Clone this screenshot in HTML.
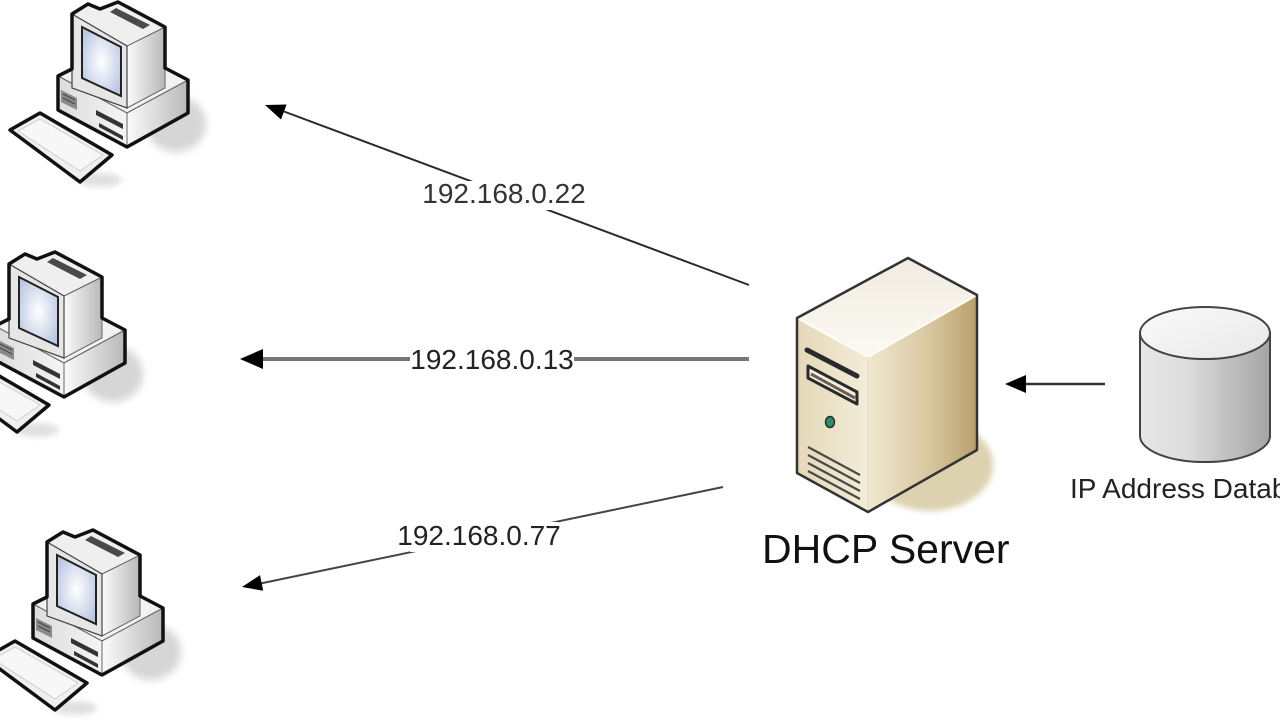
<!DOCTYPE html>
<html>
<head>
<meta charset="utf-8">
<style>
  html,body{margin:0;padding:0;background:#fff;width:1280px;height:720px;overflow:hidden;}
  svg{display:block;}
  text{font-family:"Liberation Sans",Arial,sans-serif;}
</style>
</head>
<body>
<svg width="1280" height="720" viewBox="0 0 1280 720" xmlns="http://www.w3.org/2000/svg">
  <defs>
    <filter id="blur4" x="-50%" y="-50%" width="200%" height="200%"><feGaussianBlur stdDeviation="4"/></filter>
    <filter id="blur3" x="-50%" y="-50%" width="200%" height="200%"><feGaussianBlur stdDeviation="3"/></filter>
    <linearGradient id="pcSide" x1="0" y1="0" x2="1" y2="0">
      <stop offset="0" stop-color="#fbfbfb"/><stop offset="1" stop-color="#b8b8b8"/>
    </linearGradient>
    <linearGradient id="pcFront" x1="0" y1="0" x2="1" y2="0">
      <stop offset="0" stop-color="#dcdcdc"/><stop offset="1" stop-color="#f4f4f4"/>
    </linearGradient>
    <radialGradient id="screen" cx="0.5" cy="0.5" r="0.6">
      <stop offset="0" stop-color="#ffffff"/><stop offset="1" stop-color="#b9c6e2"/>
    </radialGradient>
    <linearGradient id="srvRight" x1="0" y1="0" x2="1" y2="0">
      <stop offset="0" stop-color="#f0e8d2"/><stop offset="0.6" stop-color="#d6c59c"/><stop offset="1" stop-color="#b89f6c"/>
    </linearGradient>
    <linearGradient id="srvFront" x1="0" y1="0" x2="1" y2="0">
      <stop offset="0" stop-color="#e4d8b8"/><stop offset="1" stop-color="#f3ecd9"/>
    </linearGradient>
    <linearGradient id="srvTop" x1="0" y1="0" x2="0" y2="1">
      <stop offset="0" stop-color="#f1ece0"/><stop offset="1" stop-color="#fbf9f3"/>
    </linearGradient>
    <linearGradient id="dbBody" x1="0" y1="0" x2="1" y2="0">
      <stop offset="0" stop-color="#e6e6e6"/><stop offset="0.35" stop-color="#dedede"/><stop offset="1" stop-color="#a4a4a4"/>
    </linearGradient>
    <linearGradient id="dbTop" x1="0" y1="0" x2="1" y2="1">
      <stop offset="0" stop-color="#fafafa"/><stop offset="1" stop-color="#e8e8e8"/>
    </linearGradient>

    <g id="pc">
      <ellipse cx="176" cy="124" rx="30" ry="28" fill="#d6d6d6" filter="url(#blur4)"/>
      <ellipse cx="100" cy="180" rx="22" ry="7" fill="#e0e0e0" filter="url(#blur3)"/>
      <polygon points="58,76 120,44 188,80 127,113" fill="#f2f2f2" stroke="#666" stroke-width="1"/>
      <polygon points="58,76 127,113 127,147 58,110" fill="url(#pcFront)" stroke="#666" stroke-width="1"/>
      <polygon points="127,113 188,80 188,113 127,147" fill="url(#pcSide)" stroke="#666" stroke-width="1"/>
      <polygon points="61,90 77,98 77,110 61,102" fill="#8a8a8a"/>
      <line x1="63" y1="94" x2="75" y2="100" stroke="#444" stroke-width="1"/>
      <line x1="63" y1="98" x2="75" y2="104" stroke="#444" stroke-width="1"/>
      <polygon points="96,110 123,124 123,129 96,115" fill="#333"/>
      <polygon points="99,123 123,136 123,140 99,127" fill="#333"/>
      <polygon points="127,46 165,27 165,88 127,108" fill="url(#pcSide)" stroke="#666" stroke-width="1"/>
      <polygon points="72,14 88,4 100,9 118,2 165,27 127,46" fill="#efefef" stroke="#666" stroke-width="1"/>
      <polygon points="116,8 150,25 143,29 110,12" fill="#4a4a4a"/>
      <polygon points="72,14 127,46 127,108 72,88" fill="#e6e6e6" stroke="#444" stroke-width="1.2"/>
      <polygon points="82,27 121,47 121,96 82,78" fill="url(#screen)" stroke="#222" stroke-width="2"/>
      <polygon points="72,14 88,4 100,9 118,2 165,27 165,68 188,80 188,113 127,147 58,110 58,76 72,69" fill="none" stroke="#111" stroke-width="3.5" stroke-linejoin="round"/>
      <polygon points="10,130 40,113 112,155 80,182" fill="#efefef" stroke="#111" stroke-width="3.5" stroke-linejoin="round"/>
      <polygon points="18,131 40,119 103,155 80,171" fill="#f7f7f7" stroke="#cfcfcf" stroke-width="1"/>
    </g>
  </defs>

  <use href="#pc" x="0" y="0"/>
  <use href="#pc" x="-63" y="250"/>
  <use href="#pc" x="-25" y="528"/>

  <line x1="749" y1="285" x2="280" y2="110" stroke="#2a2a2a" stroke-width="2"/>
  <polygon points="265,105 286.6,104.5 281,119.5" fill="#000"/>
  <rect x="421" y="181" width="167" height="29" fill="#fff"/>
  <text x="504" y="203" font-size="28" text-anchor="middle" fill="#333">192.168.0.22</text>

  <line x1="749" y1="359" x2="258" y2="359" stroke="#777" stroke-width="4"/>
  <polygon points="240,359 263,349 263,369" fill="#000"/>
  <rect x="410" y="344" width="164" height="30" fill="#fff"/>
  <text x="492" y="369" font-size="28" text-anchor="middle" fill="#222">192.168.0.13</text>

  <line x1="723" y1="487" x2="258" y2="584" stroke="#444" stroke-width="2"/>
  <polygon points="242,587 263.2,590.7 260,575.1" fill="#000"/>
  <rect x="410" y="522" width="148" height="30" fill="#fff"/>
  <text x="479" y="545" font-size="28" text-anchor="middle" fill="#222">192.168.0.77</text>

  <ellipse cx="930" cy="465" rx="63" ry="46" fill="#ddd2b0" filter="url(#blur3)"/>
  <polygon points="868,357 977,295 977,450 868,512" fill="url(#srvRight)"/>
  <polygon points="797,318 868,357 868,512 797,473" fill="url(#srvFront)"/>
  <polygon points="797,318 908,258 977,295 868,357" fill="url(#srvTop)"/>
  <polyline points="797,318 868,357 977,295" fill="none" stroke="#fffdf6" stroke-width="2"/>
  <line x1="868" y1="357" x2="868" y2="512" stroke="#e9dfc4" stroke-width="1.5"/>
  <line x1="807" y1="350" x2="857" y2="376" stroke="#2a2a2a" stroke-width="5" stroke-linecap="round"/>
  <polygon points="808,366 857,392 857,404 808,378" fill="#f4efe2" stroke="#2a2a2a" stroke-width="3" stroke-linejoin="round"/>
  <line x1="811" y1="374" x2="855" y2="398" stroke="#6a6050" stroke-width="3"/>
  <ellipse cx="830" cy="422" rx="4.5" ry="5.5" fill="#2d8f6e" stroke="#2a2a2a" stroke-width="1.5"/>
  <line x1="808" y1="447" x2="860" y2="475" stroke="#4a4a4a" stroke-width="2.2"/>
  <line x1="808" y1="455" x2="860" y2="483" stroke="#4a4a4a" stroke-width="2.2"/>
  <line x1="808" y1="463" x2="860" y2="491" stroke="#4a4a4a" stroke-width="2.2"/>
  <line x1="808" y1="471" x2="860" y2="499" stroke="#4a4a4a" stroke-width="2.2"/>
  <polygon points="797,318 908,258 977,295 977,450 868,512 797,473" fill="none" stroke="#333" stroke-width="2.5" stroke-linejoin="round"/>

  <text x="762" y="563" font-size="41" fill="#111">DHCP Server</text>

  <line x1="1105" y1="384" x2="1022" y2="384" stroke="#333" stroke-width="2.5"/>
  <polygon points="1005,384 1026,375 1026,393" fill="#000"/>

  <path d="M1140,333 L1140,436 A65,26 0 0 0 1270,436 L1270,333 Z" fill="url(#dbBody)" stroke="#444" stroke-width="2"/>
  <ellipse cx="1205" cy="333" rx="65" ry="26" fill="url(#dbTop)" stroke="#444" stroke-width="2"/>

  <text x="1070" y="498" font-size="28" fill="#222">IP Address Database</text>
</svg>
</body>
</html>
